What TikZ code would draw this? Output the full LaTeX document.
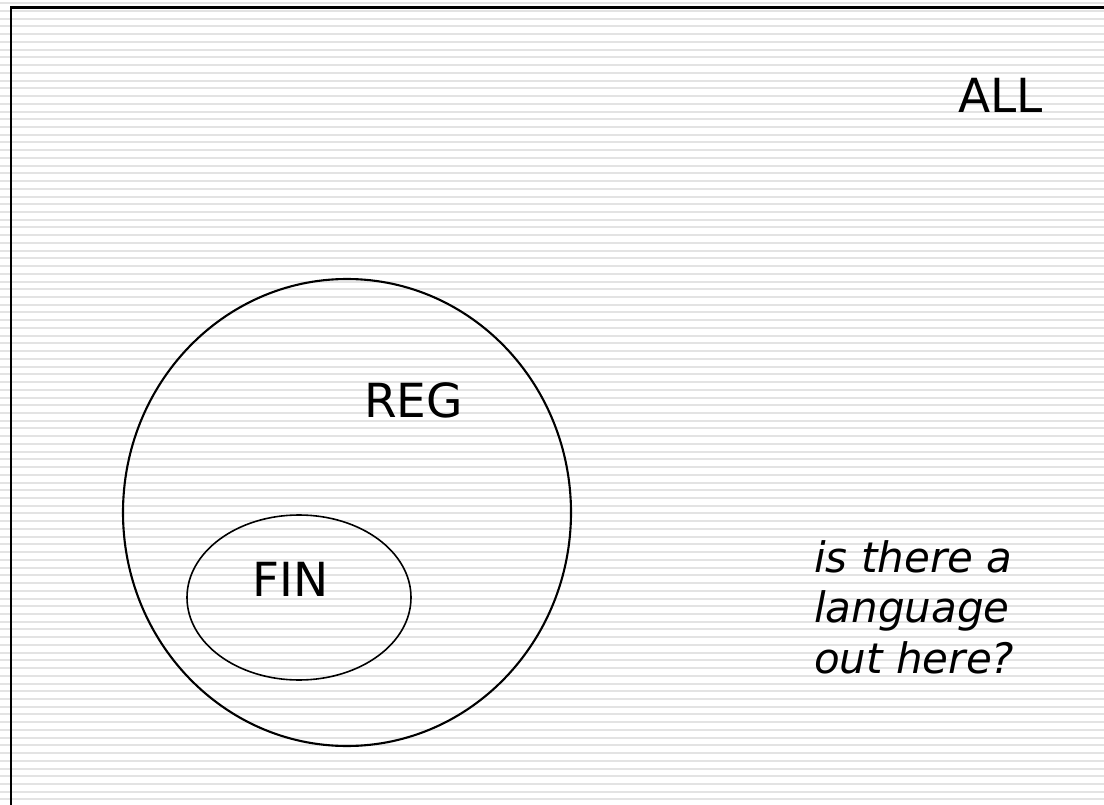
\documentclass[tikz,border=0pt]{standalone}
\usepackage{fontspec}
\setmainfont{DejaVu Sans}
\begin{document}
\begin{tikzpicture}[x=1pt,y=-1pt,
  stripe/.style={draw=black!11, line width=2pt},
  frame/.style={draw=black, line width=2.2pt},
  bigset/.style={draw=black, line width=2.1pt},
  smallset/.style={draw=black, line width=1.6pt},
  lbl/.style={font=\fontsize{47}{56}\selectfont, inner sep=0pt, anchor=base west},
  note/.style={font=\fontsize{42}{50.5}\selectfont\itshape, inner sep=0pt, align=left, anchor=base west}]
  \useasboundingbox (0,0) rectangle (1104,805);
  % ruled background
  \fill[white] (0,0) rectangle (1104,805);
  \foreach \k in {0,...,103}
    \draw[stripe] (0,{3.3+7.73*\k}) -- (1104,{3.3+7.73*\k});
  % universe frame
  \coordinate (fbl) at (11.3,812);
  \coordinate (ftl) at (11.3,7.5);
  \coordinate (ftr) at (1112,7.5);
  \draw[frame] (fbl) -- (ftl) -- (ftr);
  % set regions
  \draw[bigset] (347,512.5) ellipse [x radius=224, y radius=233.5];
  \draw[smallset] (299,597.5) ellipse [x radius=112, y radius=82.5];
  % labels
  \node[lbl] (all) at (958,113) {ALL};
  \node[lbl] (reg) at (364,417) {REG};
  \node[lbl] (fin) at (252,596) {FIN};
  % the base anchor of a multi-line node sits on its last line
  \node[note] (question) at (814,673) {is there a\\language\\out here?};
\end{tikzpicture}
\end{document}
